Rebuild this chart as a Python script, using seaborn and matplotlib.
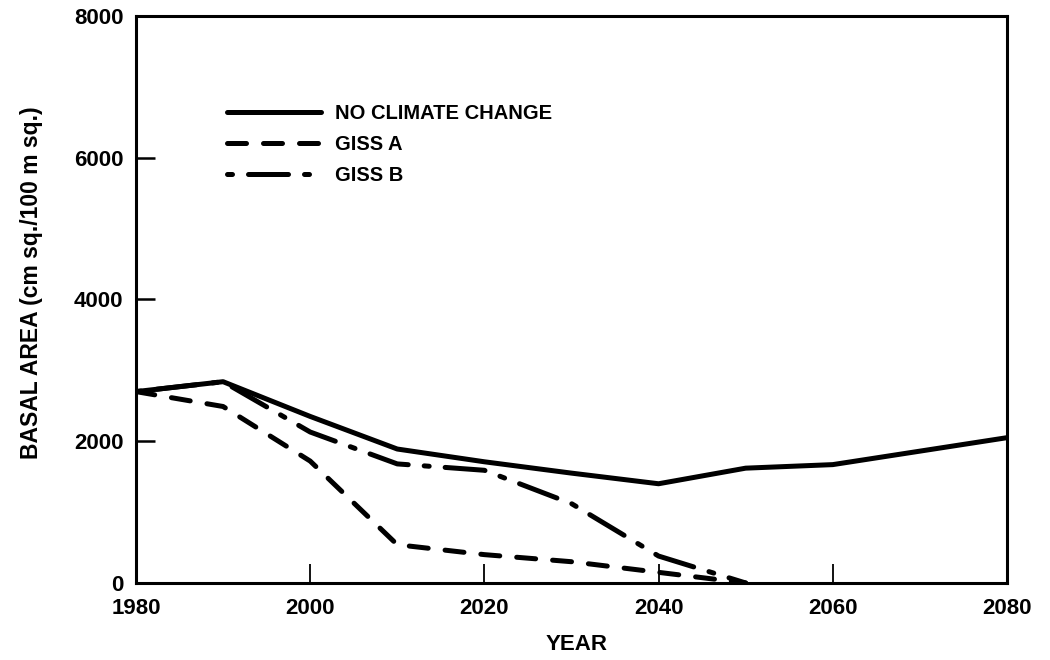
import pandas as pd
import matplotlib
matplotlib.use("Agg")
import matplotlib.pyplot as plt
import seaborn as sns

# Basal area projections (cm sq./100 m sq.) by year
years = [1980, 1990, 2000, 2010, 2020, 2030, 2040, 2050, 2060, 2070, 2080]
no_climate_change = [2700, 2840, 2350, 1890, 1710, 1550, 1400, 1620, 1670, 1860, 2050]

giss_a_years = [1980, 1990, 2000, 2010, 2020, 2030, 2040, 2050]
giss_a = [2700, 2490, 1720, 540, 400, 300, 150, 0]

giss_b_years = [1980, 1990, 2000, 2010, 2020, 2030, 2040, 2050]
giss_b = [2700, 2840, 2130, 1680, 1590, 1120, 380, 0]

series_names = ["NO CLIMATE CHANGE", "GISS A", "GISS B"]
x_ticks = [1980, 2000, 2020, 2040, 2060, 2080]
y_ticks = [0, 2000, 4000, 6000, 8000]

sns.set_theme(style="white")
plt.rcParams["font.family"] = ["Liberation Sans", "DejaVu Sans"]
plt.rcParams["font.weight"] = "bold"
plt.rcParams["text.color"] = "black"
plt.rcParams["axes.labelcolor"] = "black"

df = pd.concat([
    pd.DataFrame({"year": years, "basal": no_climate_change, "scenario": series_names[0]}),
    pd.DataFrame({"year": giss_a_years, "basal": giss_a, "scenario": series_names[1]}),
    pd.DataFrame({"year": giss_b_years, "basal": giss_b, "scenario": series_names[2]}),
], ignore_index=True)

fig = plt.figure(figsize=(10.5, 6.6), dpi=100)
ax = fig.add_axes([0.1295, 0.1167, 0.8295, 0.8591])

sns.lineplot(
    data=df, x="year", y="basal", style="scenario", style_order=series_names,
    dashes={series_names[0]: "", series_names[1]: (3.8, 3.4), series_names[2]: (8.0, 3.2, 1, 3.2)},
    color="black", linewidth=3.6, estimator=None, sort=False, legend=False, ax=ax,
    solid_capstyle="round", solid_joinstyle="round",
    dash_capstyle="round", dash_joinstyle="round",
)

# GISS B pattern starts on the dot so the key reads "• —— •"
lines = ax.get_lines()
lines[2].set_linestyle((11.2, (8.0, 3.2, 1, 3.2)))

ax.set_xlim(1980, 2080)
ax.set_ylim(0, 8000)
ax.set_xticks(x_ticks)
ax.set_yticks(y_ticks)
ax.set_xticklabels([str(t) for t in x_ticks])
ax.set_yticklabels([str(t) for t in y_ticks])

for side in ["left", "right", "top", "bottom"]:
    ax.spines[side].set_visible(True)
    ax.spines[side].set_color("black")
    ax.spines[side].set_linewidth(2.2)

ax.tick_params(axis="both", which="major", bottom=True, left=True, top=False, right=False,
               direction="in", length=14, width=1.8, color="black",
               labelsize=16, labelcolor="black")
ax.tick_params(axis="x", width=1.3)
ax.tick_params(axis="y", pad=9)
ax.tick_params(axis="x", pad=11)

ax.set_xlabel("YEAR", fontsize=16, fontweight="bold", color="black")
ax.set_ylabel("BASAL AREA (cm sq./100 m sq.)", fontsize=16.5, fontweight="bold", color="black")
ax.xaxis.set_label_coords(0.506, -0.09)
ax.yaxis.set_label_coords(-0.107, 0.53)

ax.legend(lines, series_names, loc="upper left", bbox_to_anchor=(0.104, 0.845),
          frameon=False, fontsize=14.5, handlelength=4.7, handletextpad=0.7,
          labelspacing=0.6, borderpad=0, borderaxespad=0, labelcolor="black")

fig.savefig("out.png", dpi=100, facecolor="white")
